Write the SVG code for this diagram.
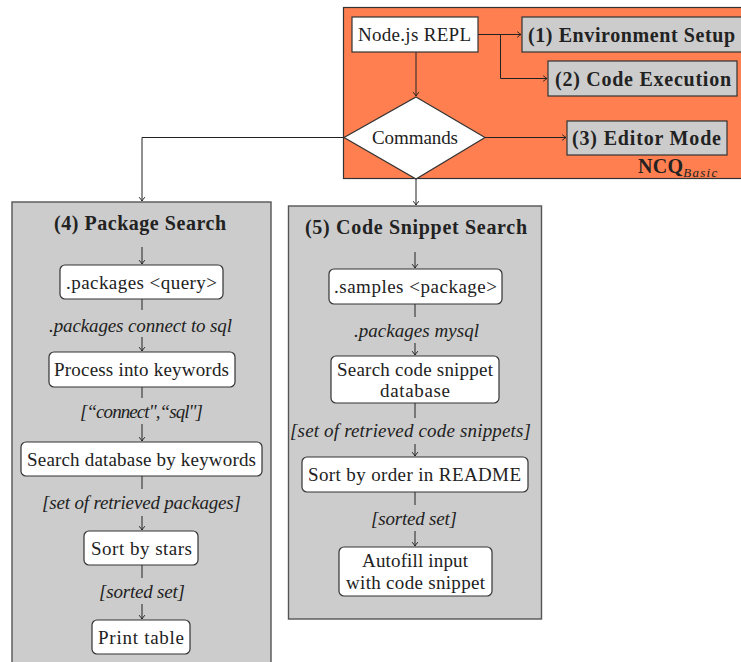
<svg xmlns="http://www.w3.org/2000/svg" width="741" height="662" viewBox="0 0 741 662">
  <defs>
    <marker id="arrow" markerUnits="userSpaceOnUse" markerWidth="12" markerHeight="12" viewBox="-6 -6 12 12" refX="0" refY="0" orient="auto">
      <path d="M-3.8,-2.8 Q-1,-0.6 0,0 Q-1,0.6 -3.8,2.8" fill="none" stroke="#222" stroke-width="1"/>
    </marker>
    <style>
      .t { font-family: "Liberation Serif", "DejaVu Serif", serif; font-size: 19px; fill: #222; text-anchor: middle; dominant-baseline: central; }
      .b { font-weight: bold; font-size: 20px; }
      .i { font-style: italic; }
      .plain { fill: #ffffff; stroke: #333; stroke-width: 1.2; }
      .step { fill: #ffffff; stroke: #333; stroke-width: 1.2; }
      .grey { fill: #cccccc; stroke: #333; stroke-width: 1.2; }
      .panel { fill: #cccccc; stroke: #555; stroke-width: 1.4; }
      .link { fill: none; stroke: #222; stroke-width: 1; }
      .arr { marker-end: url(#arrow); }
    </style>
  </defs>

  <!-- NCQ Basic region -->
  <g id="ncq-basic">
    <rect x="343.5" y="7.5" width="402" height="171" fill="#ff7f50" stroke="#333" stroke-width="1.2"/>
    <text x="638" y="173" style="font-family:'Liberation Serif',serif;font-size:20px;font-weight:bold;fill:#222"><tspan textLength="45">NCQ</tspan><tspan style="font-size:13px;font-weight:normal;font-style:italic" dy="4" textLength="34">Basic</tspan></text>
  </g>

  <!-- Panels -->
  <g id="package-search">
    <rect class="panel" x="12" y="202" width="259" height="470"/>
    <text class="t b" x="140" y="223" textLength="172">(4) Package Search</text>
  </g>
  <g id="snippet-search">
    <rect class="panel" x="288.5" y="206" width="253" height="413"/>
    <text class="t b" x="416" y="227" textLength="222">(5) Code Snippet Search</text>
  </g>

  <!-- Connectors -->
  <g id="connectors">
    <line class="link arr" x1="478" y1="34.5" x2="521" y2="34.5"/>
    <polyline class="link arr" points="500.5,34.5 500.5,78.5 547,78.5"/>
    <line class="link arr" x1="416" y1="52" x2="416" y2="96"/>
    <line class="link arr" x1="485" y1="137.5" x2="566" y2="137.5"/>
    <polyline class="link arr" points="344,137.5 142,137.5 142,201"/>
    <line class="link arr" x1="416" y1="179" x2="416" y2="205"/>

    <line class="link arr" x1="142" y1="247" x2="142" y2="264"/>
    <line class="link" x1="142" y1="299" x2="142" y2="310"/>
    <line class="link arr" x1="142" y1="337" x2="142" y2="351"/>
    <line class="link" x1="142" y1="387" x2="142" y2="398"/>
    <line class="link arr" x1="142" y1="424" x2="142" y2="441"/>
    <line class="link" x1="142" y1="476" x2="142" y2="489"/>
    <line class="link arr" x1="142" y1="516" x2="142" y2="530"/>
    <line class="link" x1="142" y1="565" x2="142" y2="578"/>
    <line class="link arr" x1="142" y1="604" x2="142" y2="619"/>

    <line class="link arr" x1="415" y1="252" x2="415" y2="268"/>
    <line class="link" x1="415" y1="304" x2="415" y2="317"/>
    <line class="link arr" x1="415" y1="343" x2="415" y2="355"/>
    <line class="link" x1="415" y1="403" x2="415" y2="418"/>
    <line class="link arr" x1="415" y1="444" x2="415" y2="456"/>
    <line class="link" x1="415" y1="492" x2="415" y2="505"/>
    <line class="link arr" x1="415" y1="531" x2="415" y2="546"/>
  </g>

  <!-- Top-level nodes -->
  <g id="node-repl">
    <rect class="plain" x="352" y="17" width="126" height="35"/>
    <text class="t" x="414.5" y="34.5" textLength="113">Node.js REPL</text>
  </g>
  <g id="node-env">
    <rect class="grey" x="522" y="17" width="225" height="35"/>
    <text class="t b" x="631.5" y="34.5" textLength="207">(1) Environment Setup</text>
  </g>
  <g id="node-exec">
    <rect class="grey" x="548" y="61" width="189" height="35"/>
    <text class="t b" x="643" y="78.5" textLength="176">(2) Code Execution</text>
  </g>
  <g id="node-commands">
    <polygon class="plain" points="416,97 485,137.5 416,179 344,137.5"/>
    <text class="t" x="415" y="137.5" textLength="86">Commands</text>
  </g>
  <g id="node-editor">
    <rect class="grey" x="567" y="121" width="160" height="34"/>
    <text class="t b" x="646.5" y="138" textLength="149">(3) Editor Mode</text>
  </g>

  <!-- Package search steps -->
  <g id="pkg-query">
    <rect class="step" x="60" y="265" width="163" height="34" rx="5"/>
    <text class="t" x="141.5" y="282" textLength="151">.packages &lt;query&gt;</text>
  </g>
  <text class="t i" x="140.5" y="325.5" textLength="183">.packages connect to sql</text>
  <g id="pkg-keywords">
    <rect class="step" x="49" y="352" width="186" height="35" rx="5"/>
    <text class="t" x="141.5" y="369.5" textLength="175">Process into keywords</text>
  </g>
  <text class="t i" x="141.5" y="411" textLength="123">[“connect",“sql"]</text>
  <g id="pkg-search-db">
    <rect class="step" x="21" y="442" width="241" height="34" rx="5"/>
    <text class="t" x="141.5" y="459" textLength="229">Search database by keywords</text>
  </g>
  <text class="t i" x="141.5" y="502.5" textLength="199">[set of retrieved packages]</text>
  <g id="pkg-sort">
    <rect class="step" x="84" y="531" width="114" height="34" rx="5"/>
    <text class="t" x="141.5" y="548" textLength="101">Sort by stars</text>
  </g>
  <text class="t i" x="142" y="591" textLength="86">[sorted set]</text>
  <g id="pkg-print">
    <rect class="step" x="92" y="620" width="98" height="34" rx="5"/>
    <text class="t" x="141" y="637" textLength="86">Print table</text>
  </g>

  <!-- Snippet search steps -->
  <g id="snip-samples">
    <rect class="step" x="329" y="269" width="173" height="35" rx="5"/>
    <text class="t" x="415.5" y="286.5" textLength="163">.samples &lt;package&gt;</text>
  </g>
  <text class="t i" x="416.5" y="330" textLength="125">.packages mysql</text>
  <g id="snip-search-db">
    <rect class="step" x="331" y="356" width="168" height="47" rx="5"/>
    <text class="t" x="415" y="369.5" textLength="156">Search code snippet</text>
    <text class="t" x="415" y="390.5" textLength="70">database</text>
  </g>
  <text class="t i" x="410.5" y="430.5" textLength="241">[set of retrieved code snippets]</text>
  <g id="snip-sort">
    <rect class="step" x="302" y="457" width="226" height="35" rx="5"/>
    <text class="t" x="414.5" y="474.5" textLength="213">Sort by order in README</text>
  </g>
  <text class="t i" x="414" y="518" textLength="86">[sorted set]</text>
  <g id="snip-autofill">
    <rect class="step" x="339" y="547" width="153" height="49" rx="5"/>
    <text class="t" x="415" y="560.5" textLength="106">Autofill input</text>
    <text class="t" x="415.5" y="582" textLength="139">with code snippet</text>
  </g>
</svg>
